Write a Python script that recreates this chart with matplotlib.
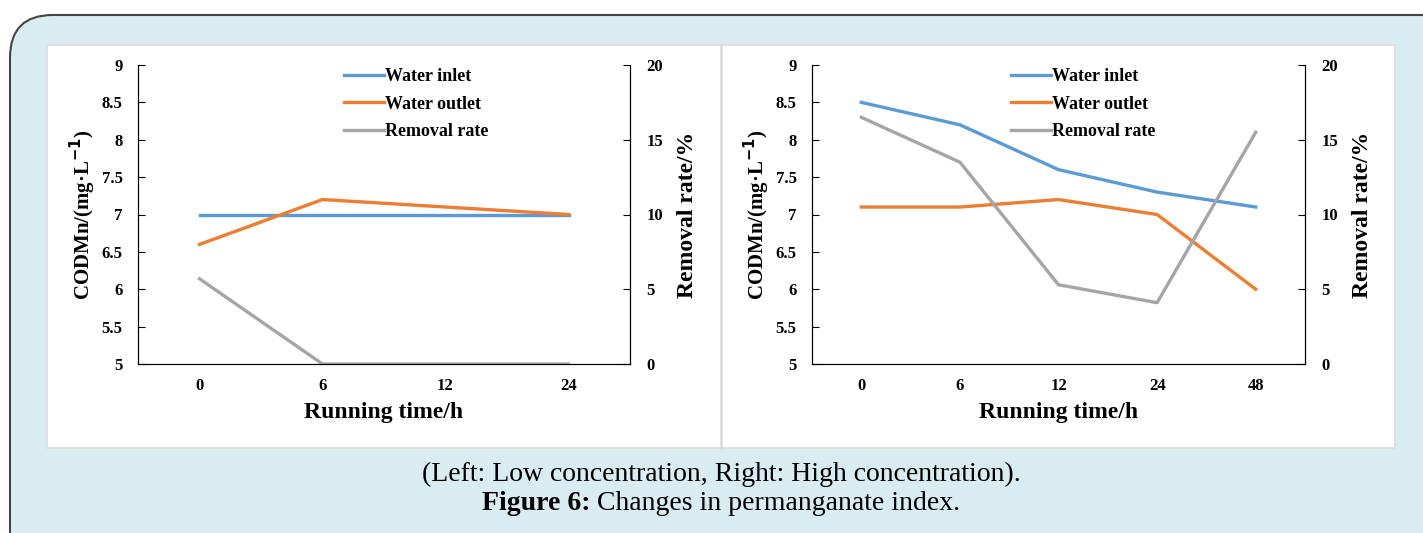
import matplotlib.pyplot as plt
from matplotlib.patches import FancyBboxPatch, Rectangle
from matplotlib.lines import Line2D

# left panel: low concentration
times_low = ["0", "6", "12", "24"]
inlet_low = [7.0, 7.0, 7.0, 7.0]
outlet_low = [6.6, 7.2, 7.1, 7.0]
removal_low = [5.7, 0.0, 0.0, 0.0]

# right panel: high concentration
times_high = ["0", "6", "12", "24", "48"]
inlet_high = [8.5, 8.2, 7.6, 7.3, 7.1]
outlet_high = [7.1, 7.1, 7.2, 7.0, 6.0]
removal_high = [16.5, 13.5, 5.3, 4.1, 15.5]

W, H = 1423, 533
C_IN, C_OUT, C_RM = "#5b9bd5", "#ed7d31", "#a5a5a5"
serif = "Liberation Serif"

fig = plt.figure(figsize=(W / 100, H / 100), dpi=100)
fig.patch.set_facecolor("white")


def px(x0, y0, x1, y1):
    # pixel box (top-left origin) -> figure fraction rect
    return [x0 / W, 1 - y1 / H, (x1 - x0) / W, (y1 - y0) / H]


# page background, white card and divider
bg = FancyBboxPatch((10 / W, -0.1), 1.2, (H - 15) / H + 0.1,
                    boxstyle="round,pad=0,rounding_size=0.03",
                    transform=fig.transFigure, facecolor="#d8ecf1",
                    edgecolor="#444444", linewidth=1.5, mutation_aspect=W / H,
                    zorder=-3)
fig.patches.append(bg)
fig.patches.append(Rectangle((47 / W, 1 - 448 / H), (1395 - 47) / W, (448 - 45) / H,
                             transform=fig.transFigure, facecolor="white",
                             edgecolor="#dddddd", linewidth=1.2, zorder=-2))
fig.lines.append(Line2D([721 / W, 721 / W], [1 - 448 / H, 1 - 45 / H],
                        transform=fig.transFigure, color="#dddddd", linewidth=2,
                        zorder=-1))


def style_ticks(labels):
    for t in labels:
        t.set_fontfamily(serif)
        t.set_fontweight("bold")
        t.set_fontsize(12)


def panel(rect, times, inlet, outlet, removal, leg_x):
    ax = fig.add_axes(rect)
    ax.set_facecolor("none")
    x = list(range(len(times)))
    l1, = ax.plot(x, inlet, color=C_IN, linewidth=2.4, label="Water inlet")
    l2, = ax.plot(x, outlet, color=C_OUT, linewidth=2.4, label="Water outlet")
    ax.set_xlim(-0.5, len(times) - 0.5)
    ax.set_ylim(5, 9)
    ax.set_yticks([5, 5.5, 6, 6.5, 7, 7.5, 8, 8.5, 9])
    ax.set_yticklabels(["5", "5.5", "6", "6.5", "7", "7.5", "8", "8.5", "9"])
    ax.set_xticks(x)
    ax.set_xticklabels(times)
    ax.tick_params(axis="x", length=0, pad=10)
    ax.tick_params(axis="y", direction="in", length=5, pad=11)
    style_ticks(ax.get_xticklabels() + ax.get_yticklabels())
    ax.spines["top"].set_visible(False)
    ax.set_xlabel("Running time/h", fontfamily=serif, fontweight="bold",
                  fontsize=17, labelpad=6)
    ax.set_ylabel("CODMn/(mg·L$^{\\mathbf{-1}}$)", fontfamily=serif,
                  fontweight="bold", fontsize=15, labelpad=3)

    ax2 = ax.twinx()
    l3, = ax2.plot(x, removal, color=C_RM, linewidth=2.4, label="Removal rate")
    ax2.set_ylim(0, 20)
    ax2.set_yticks([0, 5, 10, 15, 20])
    ax2.tick_params(axis="y", direction="in", length=5, pad=12)
    style_ticks(ax2.get_yticklabels())
    ax2.spines["top"].set_visible(False)
    ax2.set_ylabel("Removal rate/%", fontfamily=serif, fontweight="bold",
                   fontsize=17, labelpad=10)

    ax.legend(handles=[l1, l2, l3], loc="upper left",
              bbox_to_anchor=(leg_x, 1.02), frameon=False,
              handlelength=2.2, handletextpad=0.1, labelspacing=0.58,
              borderaxespad=0.1,
              prop={"family": serif, "weight": "bold", "size": 13})
    return ax


panel(px(138, 65, 630, 364), times_low, inlet_low, outlet_low, removal_low, 0.40)
panel(px(812, 65, 1305, 364), times_high, inlet_high, outlet_high, removal_high, 0.385)

fig.text(721 / W, 1 - 474 / H, "(Left: Low concentration, Right: High concentration).",
         ha="center", va="center", fontfamily=serif, fontsize=20)
fig.text(591 / W, 1 - 504 / H, "Figure 6:", ha="right", va="center",
         fontfamily=serif, fontweight="bold", fontsize=20)
fig.text(597 / W, 1 - 504 / H, "Changes in permanganate index.", ha="left",
         va="center", fontfamily=serif, fontsize=20)

fig.savefig("out.png", dpi=100)
